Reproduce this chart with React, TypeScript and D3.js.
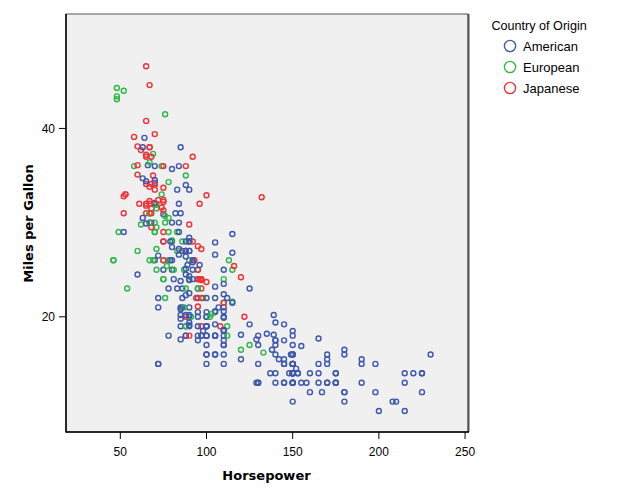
import React from "react";
import * as d3 from "d3";

const originLabels = ["American", "European", "Japanese"];
const originColors = ["#3E58AC", "#2EB848", "#EE3338"];

const mpg = [
18,15,18,16,17,15,14,14,14,15,15,14,15,14,24,22,18,21,27,26,25,24,25,26,21,10,10,11,
27,28,25,19,16,17,19,18,14,14,14,14,12,13,13,18,22,19,18,23,28,30,30,31,35,27,26,
24,25,23,20,21,13,14,15,14,17,11,13,12,13,19,15,13,13,14,18,22,21,26,22,28,23,28,27,
13,14,13,14,15,12,13,13,14,13,12,13,18,16,18,18,23,26,11,12,13,12,18,20,21,22,18,19,21,26,15,16,29,24,20,19,15,24,20,11,
20,19,15,31,26,32,25,16,16,18,16,13,14,14,14,29,26,26,31,32,28,24,26,24,26,31,
19,18,15,15,16,15,16,14,17,16,15,18,21,20,13,29,23,20,23,24,25,24,18,29,19,23,23,22,25,33,
28,25,25,26,27,17.5,16,15.5,14.5,22,22,24,22.5,29,24.5,29,33,20,18,18.5,17.5,29.5,32,28,26.5,20,13,19,19,16.5,16.5,13,13,13,
31.5,30,36,25.5,33.5,17.5,17,15.5,15,17.5,20.5,19,18.5,16,15.5,15.5,16,29,24.5,26,25.5,30.5,33.5,30,30.5,22,21.5,21.5,
43.1,36.1,32.8,39.4,36.1,19.9,19.4,20.2,19.2,20.5,20.2,25.1,20.5,19.4,20.6,20.8,18.6,18.1,19.2,17.7,18.1,17.5,30,27.5,27.2,30.9,21.1,23.2,23.8,23.9,20.3,17,21.6,16.2,31.5,29.5,
21.5,19.8,22.3,20.2,20.6,17,17.6,16.5,18.2,16.9,15.5,19.2,18.5,31.9,34.1,35.7,27.4,25.4,23,27.2,23.9,34.2,34.5,31.8,37.3,28.4,28.8,26.8,33.5,
41.5,38.1,32.1,37.2,28,26.4,24.3,19.1,34.3,29.8,31.3,37,32.2,46.6,27.9,40.8,44.3,43.4,36.4,30,44.6,33.8,29.8,32.7,23.7,35,32.4,
27.2,26.6,25.8,23.5,30,39.1,39,35.1,32.3,37,37.7,34.1,34.7,34.4,29.9,33,33.7,32.4,32.9,31.6,28.1,30.7,25.4,24.2,22.4,26.6,20.2,17.6,
28,27,34,31,29,27,24,36,37,31,38,36,36,36,34,38,32,38,25,38,26,22,32,36,27,27,44,32,28,31
];

const horsepower = [
130,165,150,150,140,198,220,215,225,190,170,160,150,225,95,95,97,85,88,46,87,90,95,113,90,215,200,210,
88,90,95,100,105,100,88,100,165,175,153,150,180,170,175,110,72,100,88,86,90,70,76,65,69,60,70,
95,80,54,90,86,165,175,150,153,150,208,155,160,190,97,150,130,140,150,112,76,87,69,86,92,97,80,88,
175,150,145,137,150,198,150,158,150,215,225,175,105,100,100,88,95,46,150,167,170,180,100,88,72,94,90,85,107,90,145,230,49,75,91,112,150,110,122,180,
95,100,100,67,80,65,75,100,110,105,140,150,150,140,150,83,67,78,52,61,75,75,75,97,93,67,
95,105,72,72,170,145,150,148,110,105,110,95,110,110,129,75,83,100,78,96,71,97,97,70,90,95,88,98,115,53,
86,81,92,79,83,140,150,120,152,100,105,81,90,52,60,70,53,100,78,110,95,71,70,75,72,102,150,88,108,120,180,145,130,150,
68,80,58,96,70,145,110,145,130,110,105,100,98,180,170,190,149,78,88,75,89,63,83,67,78,97,110,110,
48,66,52,70,60,110,140,139,105,95,85,88,100,90,105,85,110,120,145,165,139,140,68,95,97,75,95,105,85,97,103,125,115,133,71,68,
115,85,88,90,110,130,129,138,135,155,142,125,150,71,65,80,80,77,125,71,90,70,70,65,69,90,115,115,90,
76,60,70,65,90,88,90,90,78,90,75,92,75,65,105,65,48,48,67,67,67,67,62,132,100,88,72,
84,84,92,110,84,58,64,60,67,65,62,68,63,65,65,74,75,75,100,74,80,76,116,120,110,105,88,85,
88,88,88,85,84,90,92,74,68,68,63,70,88,75,70,67,67,67,110,85,92,112,96,84,90,86,52,84,79,82
];

const origin = [
1,1,1,1,1,1,1,1,1,1,1,1,1,1,3,1,1,1,3,2,2,2,2,2,1,1,1,1,
3,1,3,1,1,1,1,1,1,1,1,1,1,1,1,1,1,1,1,1,2,2,2,3,3,2,1,
3,1,2,1,1,1,1,1,1,1,1,1,1,1,3,1,1,1,1,2,2,2,2,1,3,3,1,3,
1,1,1,1,1,1,1,1,1,1,1,1,1,1,1,1,1,2,1,1,1,1,1,3,1,3,3,1,1,2,1,1,2,2,2,2,1,2,3,1,
1,1,1,3,1,3,1,1,1,1,1,1,1,1,1,2,2,2,3,3,1,2,2,3,3,2,
1,1,1,1,1,1,1,1,1,1,1,1,1,1,1,3,1,1,1,3,2,3,1,2,1,2,2,2,2,3,
2,2,1,1,2,1,1,1,1,1,1,1,1,1,1,2,3,1,1,1,1,2,3,3,1,2,1,2,3,2,1,1,1,1,
3,1,2,1,3,1,1,1,1,1,1,1,1,1,1,1,1,2,1,3,1,1,1,3,2,3,2,3,
2,1,3,3,3,1,1,1,1,1,1,1,1,1,1,1,1,1,1,1,1,1,1,3,3,1,3,1,1,3,2,2,2,2,2,3,
1,1,1,1,1,1,1,1,1,1,1,1,1,2,3,1,1,2,1,2,1,1,1,3,2,1,1,1,1,
2,3,1,3,1,1,1,1,2,3,3,3,3,3,1,3,2,2,2,2,3,3,2,3,3,2,3,
1,1,1,1,1,3,1,3,3,3,3,3,1,1,1,2,3,3,3,3,2,2,3,3,1,1,1,1,
1,1,1,1,1,1,1,2,3,3,1,1,3,3,3,3,3,3,1,1,1,1,3,1,1,1,2,1,1,1
];

const xTicks = [50, 100, 150, 200, 250];
const yTicks = [20, 40];

const W = 625, H = 500;
const plot = { left: 66, right: 468, top: 14, bottom: 432 };

export default function App() {
  const x = d3.scaleLinear().domain([18.5, 251.7]).range([plot.left, plot.right]);
  const y = d3.scaleLinear().domain([7.77, 52.15]).range([plot.bottom, plot.top]);
  const n = Math.min(mpg.length, horsepower.length, origin.length);
  const pts = d3.range(n).map((i) => ({ hp: horsepower[i], mpg: mpg[i], o: origin[i] }));
  const tickFont = "'Liberation Sans', Arial, sans-serif";
  const titleFont = "'DejaVu Sans', Verdana, sans-serif";
  return (
    <svg width={W} height={H} style={{ position: "absolute", left: 0, top: 0, background: "#fff" }}>
      <rect x={plot.left} y={plot.top} width={plot.right - plot.left} height={plot.bottom - plot.top}
        fill="#F0F0F0" stroke="#555" strokeWidth={1} />
      <line x1={plot.right + 0.5} x2={plot.right + 0.5} y1={plot.top} y2={plot.bottom} stroke="#555" strokeWidth={2} />
      {pts.map((p, i) => (
        <circle key={i} cx={x(p.hp)} cy={y(p.mpg)} r={2.5} fill="none"
          stroke={originColors[p.o - 1]} strokeWidth={1.4} />
      ))}
      <line x1={plot.left} x2={plot.left} y1={plot.top} y2={plot.bottom + 0.5} stroke="#000" strokeWidth={1.5} />
      <line x1={plot.left} x2={plot.right + 1} y1={plot.bottom} y2={plot.bottom} stroke="#000" strokeWidth={1.5} />
      {xTicks.map((t) => (
        <g key={"x" + t}>
          <line x1={x(t)} x2={x(t)} y1={plot.bottom} y2={plot.bottom + 7} stroke="#000" strokeWidth={1} />
          <text x={x(t)} y={456} textAnchor="middle" fontFamily={tickFont} fontSize={12} fill="#000">{t}</text>
        </g>
      ))}
      {yTicks.map((t) => (
        <g key={"y" + t}>
          <line x1={plot.left - 7} x2={plot.left} y1={y(t)} y2={y(t)} stroke="#000" strokeWidth={1} />
          <text x={55} y={y(t) + 4.3} textAnchor="end" fontFamily={tickFont} fontSize={12} fill="#000">{t}</text>
        </g>
      ))}
      <text x={266.5} y={480} textAnchor="middle" fontFamily={titleFont} fontWeight="bold" fontSize={13} fill="#000">Horsepower</text>
      <text transform={`translate(32.5,223.5) rotate(-90)`} textAnchor="middle" fontFamily={titleFont} fontWeight="bold" fontSize={13} fill="#000">Miles per Gallon</text>
      <text x={491.5} y={29.5} fontFamily={tickFont} fontSize={12.6} fill="#000">Country of Origin</text>
      {originLabels.map((lab, i) => (
        <g key={lab}>
          <circle cx={510} cy={46 + i * 21} r={5.6} fill="none" stroke={originColors[i]} strokeWidth={1.4} />
          <text x={523} y={51 + i * 21} fontFamily={tickFont} fontSize={13} fill="#000">{lab}</text>
        </g>
      ))}
    </svg>
  );
}
